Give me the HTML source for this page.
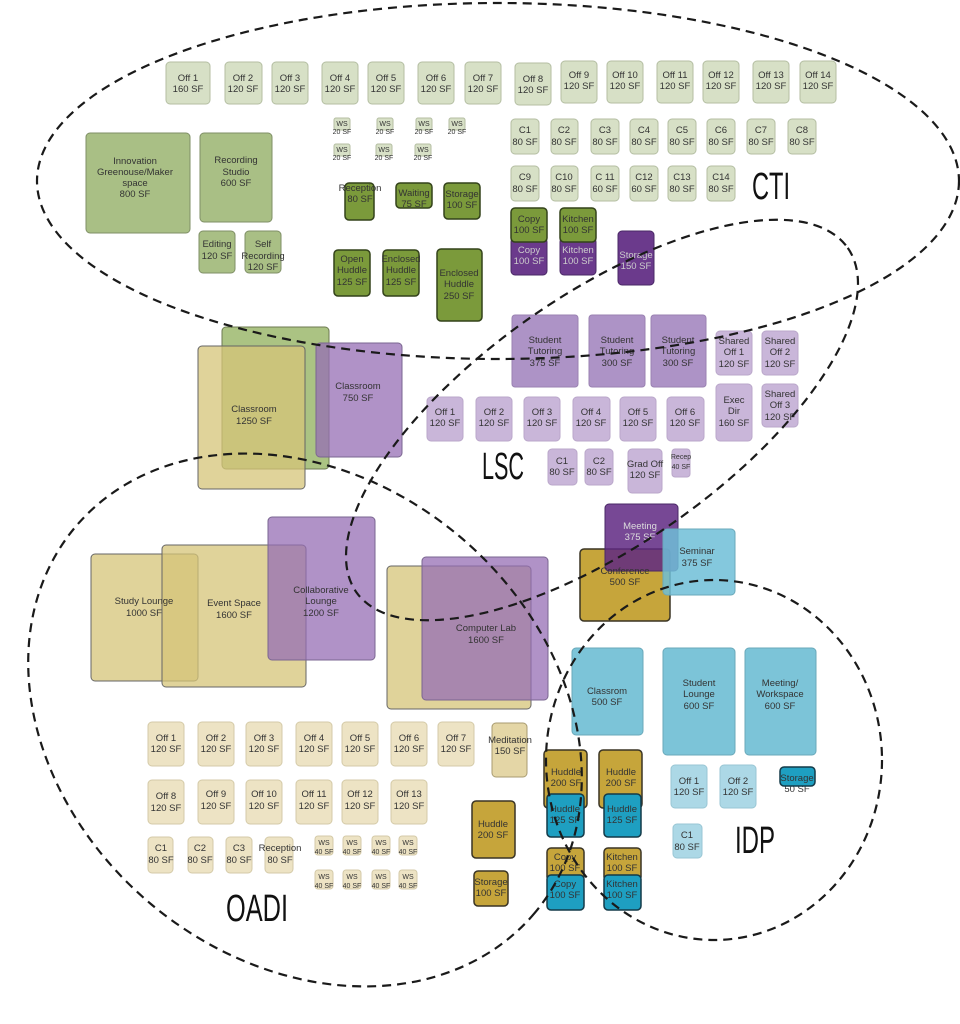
<!DOCTYPE html>
<html><head><meta charset="utf-8"><style>
html,body{margin:0;padding:0;background:#fff;width:960px;height:1024px;overflow:hidden;}
svg{display:block;font-family:"Liberation Sans",sans-serif;}
text{font-size:9.5px;fill:#333;text-anchor:middle;}
.big{font-size:38px;fill:#111;text-anchor:start;}
.g1{fill:#d7e0c6;stroke:#b4bea2;}
.g2{fill:#a9bf85;stroke:#7f8f66;}
.g3{fill:#7b9a3b;stroke:#33421a;stroke-width:1.5;}
.p1{fill:#c9b6d9;stroke:#baa7ca;}
.p2{fill:#ad93c6;stroke:#9a82b2;}
.p3{fill:#6b3a8c;stroke:#4a2866;}
.t1{fill:#ede3c4;stroke:#d4caa8;}
.go{fill:#c6a53b;stroke:#3a3424;stroke-width:1.5;}
.b1{fill:#acd8e6;stroke:#99c6d4;}
.b2{fill:#7cc4d8;stroke:#6aa9ba;}
.b3{fill:#1e9fc1;stroke:#143a48;stroke-width:1.5;}
.tg{fill:rgba(150,180,100,0.8);stroke:#6c7a50;}
.tt{fill:rgba(214,196,120,0.75);stroke:#666;}
.tp{fill:rgba(150,110,180,0.75);stroke:#7a6690;}
.tb{fill:rgba(110,190,215,0.85);stroke:#6aa9ba;}
.tm{fill:rgba(95,40,130,0.85);stroke:#4a2866;}
rect{stroke-width:1;}
.d{fill:none;stroke:#1a1a1a;stroke-width:2.2;stroke-dasharray:9 6;}
</style></head><body>
<svg width="960" height="1024" viewBox="0 0 960 1024" xmlns="http://www.w3.org/2000/svg" style="overflow:hidden">

<g>
<rect class="g1" x="166" y="62" width="44" height="42" rx="4"/><text x="188" y="81">Off 1</text><text x="188" y="92">160 SF</text>
<rect class="g1" x="225" y="62" width="37" height="42" rx="4"/><text x="243" y="81">Off 2</text><text x="243" y="92">120 SF</text>
<rect class="g1" x="272" y="62" width="36" height="42" rx="4"/><text x="290" y="81">Off 3</text><text x="290" y="92">120 SF</text>
<rect class="g1" x="322" y="62" width="36" height="42" rx="4"/><text x="340" y="81">Off 4</text><text x="340" y="92">120 SF</text>
<rect class="g1" x="368" y="62" width="36" height="42" rx="4"/><text x="386" y="81">Off 5</text><text x="386" y="92">120 SF</text>
<rect class="g1" x="418" y="62" width="36" height="42" rx="4"/><text x="436" y="81">Off 6</text><text x="436" y="92">120 SF</text>
<rect class="g1" x="465" y="62" width="36" height="42" rx="4"/><text x="483" y="81">Off 7</text><text x="483" y="92">120 SF</text>
<rect class="g1" x="515" y="63" width="36" height="42" rx="4"/><text x="533" y="82">Off 8</text><text x="533" y="93">120 SF</text>
<rect class="g1" x="561" y="61" width="36" height="42" rx="4"/><text x="579" y="78">Off 9</text><text x="579" y="89">120 SF</text>
<rect class="g1" x="607" y="61" width="36" height="42" rx="4"/><text x="625" y="78">Off 10</text><text x="625" y="89">120 SF</text>
<rect class="g1" x="657" y="61" width="36" height="42" rx="4"/><text x="675" y="78">Off 11</text><text x="675" y="89">120 SF</text>
<rect class="g1" x="703" y="61" width="36" height="42" rx="4"/><text x="721" y="78">Off 12</text><text x="721" y="89">120 SF</text>
<rect class="g1" x="753" y="61" width="36" height="42" rx="4"/><text x="771" y="78">Off 13</text><text x="771" y="89">120 SF</text>
<rect class="g1" x="800" y="61" width="36" height="42" rx="4"/><text x="818" y="78">Off 14</text><text x="818" y="89">120 SF</text>
</g>
<g>
<rect class="g1" x="334" y="118" width="16" height="12" rx="2"/><text x="342" y="126" style="font-size:7px">WS</text><text x="342" y="134" style="font-size:7px">20 SF</text>
<rect class="g1" x="377" y="118" width="16" height="12" rx="2"/><text x="385" y="126" style="font-size:7px">WS</text><text x="385" y="134" style="font-size:7px">20 SF</text>
<rect class="g1" x="416" y="118" width="16" height="12" rx="2"/><text x="424" y="126" style="font-size:7px">WS</text><text x="424" y="134" style="font-size:7px">20 SF</text>
<rect class="g1" x="449" y="118" width="16" height="12" rx="2"/><text x="457" y="126" style="font-size:7px">WS</text><text x="457" y="134" style="font-size:7px">20 SF</text>
<rect class="g1" x="334" y="144" width="16" height="12" rx="2"/><text x="342" y="152" style="font-size:7px">WS</text><text x="342" y="160" style="font-size:7px">20 SF</text>
<rect class="g1" x="376" y="144" width="16" height="12" rx="2"/><text x="384" y="152" style="font-size:7px">WS</text><text x="384" y="160" style="font-size:7px">20 SF</text>
<rect class="g1" x="415" y="144" width="16" height="12" rx="2"/><text x="423" y="152" style="font-size:7px">WS</text><text x="423" y="160" style="font-size:7px">20 SF</text>
</g>
<rect class="g2" x="86" y="133" width="104" height="100" rx="4"/><text x="135" y="164">Innovation</text><text x="135" y="175">Greenouse/Maker</text><text x="135" y="186">space</text><text x="135" y="197">800 SF</text>
<rect class="g2" x="200" y="133" width="72" height="89" rx="4"/><text x="236" y="163">Recording</text><text x="236" y="175">Studio</text><text x="236" y="186">600 SF</text>
<rect class="g2" x="199" y="231" width="36" height="42" rx="4"/><text x="217" y="247">Editing</text><text x="217" y="259">120 SF</text>
<rect class="g2" x="245" y="231" width="36" height="42" rx="4"/><text x="263" y="247">Self</text><text x="263" y="259">Recording</text><text x="263" y="270">120 SF</text>
<rect class="g3" x="345" y="183" width="29" height="37" rx="4"/><text x="360" y="191">Reception</text><text x="360" y="202">80 SF</text>
<rect class="g3" x="396" y="183" width="36" height="25" rx="4"/><text x="414" y="196">Waiting</text><text x="414" y="207">75 SF</text>
<rect class="g3" x="444" y="183" width="36" height="36" rx="4"/><text x="462" y="197">Storage</text><text x="462" y="208">100 SF</text>
<rect class="g3" x="334" y="250" width="36" height="46" rx="4"/><text x="352" y="262">Open</text><text x="352" y="273">Huddle</text><text x="352" y="285">125 SF</text>
<rect class="g3" x="383" y="250" width="36" height="46" rx="4"/><text x="401" y="262">Enclosed</text><text x="401" y="273">Huddle</text><text x="401" y="285">125 SF</text>
<rect class="g3" x="437" y="249" width="45" height="72" rx="4"/><text x="459" y="276">Enclosed</text><text x="459" y="287">Huddle</text><text x="459" y="299">250 SF</text>
<g>
<rect class="g1" x="511" y="119" width="28" height="35" rx="4"/><text x="525" y="133">C1</text><text x="525" y="145">80 SF</text>
<rect class="g1" x="551" y="119" width="27" height="35" rx="4"/><text x="564" y="133">C2</text><text x="564" y="145">80 SF</text>
<rect class="g1" x="591" y="119" width="28" height="35" rx="4"/><text x="605" y="133">C3</text><text x="605" y="145">80 SF</text>
<rect class="g1" x="630" y="119" width="28" height="35" rx="4"/><text x="644" y="133">C4</text><text x="644" y="145">80 SF</text>
<rect class="g1" x="668" y="119" width="28" height="35" rx="4"/><text x="682" y="133">C5</text><text x="682" y="145">80 SF</text>
<rect class="g1" x="707" y="119" width="28" height="35" rx="4"/><text x="721" y="133">C6</text><text x="721" y="145">80 SF</text>
<rect class="g1" x="747" y="119" width="28" height="35" rx="4"/><text x="761" y="133">C7</text><text x="761" y="145">80 SF</text>
<rect class="g1" x="788" y="119" width="28" height="35" rx="4"/><text x="802" y="133">C8</text><text x="802" y="145">80 SF</text>
<rect class="g1" x="511" y="166" width="28" height="35" rx="4"/><text x="525" y="180">C9</text><text x="525" y="192">80 SF</text>
<rect class="g1" x="551" y="166" width="27" height="35" rx="4"/><text x="564" y="180">C10</text><text x="564" y="192">80 SF</text>
<rect class="g1" x="591" y="166" width="28" height="35" rx="4"/><text x="605" y="180">C 11</text><text x="605" y="192">60 SF</text>
<rect class="g1" x="630" y="166" width="28" height="35" rx="4"/><text x="644" y="180">C12</text><text x="644" y="192">60 SF</text>
<rect class="g1" x="668" y="166" width="28" height="35" rx="4"/><text x="682" y="180">C13</text><text x="682" y="192">80 SF</text>
<rect class="g1" x="707" y="166" width="28" height="35" rx="4"/><text x="721" y="180">C14</text><text x="721" y="192">80 SF</text>
</g>
<rect class="p3" x="511" y="238" width="36" height="37" rx="4"/><text x="529" y="253" style="fill:#ccc">Copy</text><text x="529" y="264" style="fill:#ccc">100 SF</text>
<rect class="p3" x="560" y="238" width="36" height="37" rx="4"/><text x="578" y="253" style="fill:#ccc">Kitchen</text><text x="578" y="264" style="fill:#ccc">100 SF</text>
<rect class="g3" x="511" y="208" width="36" height="34" rx="4"/><text x="529" y="222">Copy</text><text x="529" y="233">100 SF</text>
<rect class="g3" x="560" y="208" width="36" height="34" rx="4"/><text x="578" y="222">Kitchen</text><text x="578" y="233">100 SF</text>
<rect class="p3" x="618" y="231" width="36" height="54" rx="4"/><text x="636" y="258" style="fill:#ccc">Storage</text><text x="636" y="269" style="fill:#ccc">150 SF</text>
<text class="big" x="752" y="199" textLength="38" lengthAdjust="spacingAndGlyphs">CTI</text>

<rect class="tg" x="222" y="327" width="107" height="142" rx="4"/>
<rect class="tt" x="198" y="346" width="107" height="143" rx="4"/>
<rect class="tp" x="316" y="343" width="86" height="114" rx="4"/>
<text x="254" y="412">Classroom</text><text x="254" y="424">1250 SF</text>
<text x="358" y="389">Classroom</text><text x="358" y="401">750 SF</text>

<rect class="p2" x="512" y="315" width="66" height="72" rx="3"/><text x="545" y="343">Student</text><text x="545" y="354">Tutoring</text><text x="545" y="366">375 SF</text>
<rect class="p2" x="589" y="315" width="56" height="72" rx="3"/><text x="617" y="343">Student</text><text x="617" y="354">Tutoring</text><text x="617" y="366">300 SF</text>
<rect class="p2" x="651" y="315" width="55" height="72" rx="3"/><text x="678" y="343">Student</text><text x="678" y="354">Tutoring</text><text x="678" y="366">300 SF</text>
<rect class="p1" x="716" y="331" width="36" height="44" rx="4"/><text x="734" y="344">Shared</text><text x="734" y="355">Off 1</text><text x="734" y="367">120 SF</text>
<rect class="p1" x="762" y="331" width="36" height="44" rx="4"/><text x="780" y="344">Shared</text><text x="780" y="355">Off 2</text><text x="780" y="367">120 SF</text>
<rect class="p1" x="716" y="384" width="36" height="57" rx="4"/><text x="734" y="403">Exec</text><text x="734" y="414">Dir</text><text x="734" y="426">160 SF</text>
<rect class="p1" x="762" y="384" width="36" height="43" rx="4"/><text x="780" y="397">Shared</text><text x="780" y="408">Off 3</text><text x="780" y="420">120 SF</text>
<rect class="p1" x="427" y="397" width="36" height="44" rx="4"/><text x="445" y="415">Off 1</text><text x="445" y="426">120 SF</text>
<rect class="p1" x="476" y="397" width="36" height="44" rx="4"/><text x="494" y="415">Off 2</text><text x="494" y="426">120 SF</text>
<rect class="p1" x="524" y="397" width="36" height="44" rx="4"/><text x="542" y="415">Off 3</text><text x="542" y="426">120 SF</text>
<rect class="p1" x="573" y="397" width="37" height="44" rx="4"/><text x="591" y="415">Off 4</text><text x="591" y="426">120 SF</text>
<rect class="p1" x="620" y="397" width="36" height="44" rx="4"/><text x="638" y="415">Off 5</text><text x="638" y="426">120 SF</text>
<rect class="p1" x="667" y="397" width="37" height="44" rx="4"/><text x="685" y="415">Off 6</text><text x="685" y="426">120 SF</text>
<rect class="p1" x="548" y="449" width="29" height="36" rx="4"/><text x="562" y="464">C1</text><text x="562" y="475">80 SF</text>
<rect class="p1" x="585" y="449" width="28" height="36" rx="4"/><text x="599" y="464">C2</text><text x="599" y="475">80 SF</text>
<rect class="p1" x="628" y="449" width="34" height="44" rx="4"/><text x="645" y="467">Grad Off</text><text x="645" y="478">120 SF</text>
<rect class="p1" x="672" y="449" width="18" height="28" rx="3"/><text x="681" y="459" style="font-size:7px">Recep</text><text x="681" y="469" style="font-size:7px">40 SF</text>
<text class="big" x="482" y="479" textLength="42" lengthAdjust="spacingAndGlyphs">LSC</text>

<rect class="tt" x="91" y="554" width="107" height="127" rx="4"/>
<rect class="tt" x="162" y="545" width="144" height="142" rx="4"/>
<rect class="tp" x="268" y="517" width="107" height="143" rx="4"/>
<text x="144" y="604">Study Lounge</text><text x="144" y="616">1000 SF</text>
<text x="234" y="606">Event Space</text><text x="234" y="618">1600 SF</text>
<text x="321" y="593">Collaborative</text><text x="321" y="604">Lounge</text><text x="321" y="616">1200 SF</text>
<rect class="tt" x="387" y="566" width="144" height="143" rx="4"/>
<rect class="tp" x="422" y="557" width="126" height="143" rx="4"/>
<text x="486" y="631">Computer Lab</text><text x="486" y="643">1600 SF</text>

<rect class="go" x="580" y="549" width="90" height="72" rx="4"/>
<rect class="tm" x="605" y="504" width="73" height="67" rx="4"/>
<rect class="tb" x="663" y="529" width="72" height="66" rx="4"/>
<text x="640" y="529" style="fill:#ddd">Meeting</text><text x="640" y="540" style="fill:#ddd">375 SF</text>
<text x="697" y="554">Seminar</text><text x="697" y="566">375 SF</text>
<text x="625" y="574">Conference</text><text x="625" y="585">500 SF</text>

<rect class="b2" x="572" y="648" width="71" height="87" rx="4"/><text x="607" y="694">Classrom</text><text x="607" y="705">500 SF</text>
<rect class="b2" x="663" y="648" width="72" height="107" rx="4"/><text x="699" y="686">Student</text><text x="699" y="697">Lounge</text><text x="699" y="709">600 SF</text>
<rect class="b2" x="745" y="648" width="71" height="107" rx="4"/><text x="780" y="686">Meeting/</text><text x="780" y="697">Workspace</text><text x="780" y="709">600 SF</text>
<rect class="b1" x="671" y="765" width="36" height="43" rx="4"/><text x="689" y="784">Off 1</text><text x="689" y="795">120 SF</text>
<rect class="b1" x="720" y="765" width="36" height="43" rx="4"/><text x="738" y="784">Off 2</text><text x="738" y="795">120 SF</text>
<text x="797" y="792">50 SF</text>
<rect class="b3" x="780" y="767" width="35" height="19" rx="4"/><text x="797" y="781">Storage</text>
<rect class="b1" x="673" y="824" width="29" height="34" rx="4"/><text x="687" y="838">C1</text><text x="687" y="850">80 SF</text>
<text class="big" x="735" y="853" textLength="40" lengthAdjust="spacingAndGlyphs">IDP</text>

<g>
<rect class="t1" x="148" y="722" width="36" height="44" rx="4"/><text x="166" y="741">Off 1</text><text x="166" y="752">120 SF</text>
<rect class="t1" x="198" y="722" width="36" height="44" rx="4"/><text x="216" y="741">Off 2</text><text x="216" y="752">120 SF</text>
<rect class="t1" x="246" y="722" width="36" height="44" rx="4"/><text x="264" y="741">Off 3</text><text x="264" y="752">120 SF</text>
<rect class="t1" x="296" y="722" width="36" height="44" rx="4"/><text x="314" y="741">Off 4</text><text x="314" y="752">120 SF</text>
<rect class="t1" x="342" y="722" width="36" height="44" rx="4"/><text x="360" y="741">Off 5</text><text x="360" y="752">120 SF</text>
<rect class="t1" x="391" y="722" width="36" height="44" rx="4"/><text x="409" y="741">Off 6</text><text x="409" y="752">120 SF</text>
<rect class="t1" x="438" y="722" width="36" height="44" rx="4"/><text x="456" y="741">Off 7</text><text x="456" y="752">120 SF</text>
<rect class="t1" x="492" y="723" width="35" height="54" rx="4" style="fill:#e4d6a6;stroke:#a89b70"/><text x="510" y="743">Meditation</text><text x="510" y="754">150 SF</text>
<rect class="t1" x="148" y="780" width="36" height="44" rx="4"/><text x="166" y="799">Off 8</text><text x="166" y="811">120 SF</text>
<rect class="t1" x="198" y="780" width="36" height="44" rx="4"/><text x="216" y="797">Off 9</text><text x="216" y="809">120 SF</text>
<rect class="t1" x="246" y="780" width="36" height="44" rx="4"/><text x="264" y="797">Off 10</text><text x="264" y="809">120 SF</text>
<rect class="t1" x="296" y="780" width="36" height="44" rx="4"/><text x="314" y="797">Off 11</text><text x="314" y="809">120 SF</text>
<rect class="t1" x="342" y="780" width="36" height="44" rx="4"/><text x="360" y="797">Off 12</text><text x="360" y="809">120 SF</text>
<rect class="t1" x="391" y="780" width="36" height="44" rx="4"/><text x="409" y="797">Off 13</text><text x="409" y="809">120 SF</text>
<rect class="t1" x="148" y="837" width="25" height="36" rx="4"/><text x="161" y="851">C1</text><text x="161" y="863">80 SF</text>
<rect class="t1" x="188" y="837" width="25" height="36" rx="4"/><text x="200" y="851">C2</text><text x="200" y="863">80 SF</text>
<rect class="t1" x="226" y="837" width="26" height="36" rx="4"/><text x="239" y="851">C3</text><text x="239" y="863">80 SF</text>
<rect class="t1" x="265" y="837" width="28" height="36" rx="4"/><text x="280" y="851">Reception</text><text x="280" y="863">80 SF</text>
</g>
<g>
<rect class="t1" x="315" y="836" width="18" height="19" rx="3"/><text x="324" y="845" style="font-size:7px">WS</text><text x="324" y="854" style="font-size:7px">40 SF</text>
<rect class="t1" x="343" y="836" width="18" height="19" rx="3"/><text x="352" y="845" style="font-size:7px">WS</text><text x="352" y="854" style="font-size:7px">40 SF</text>
<rect class="t1" x="372" y="836" width="18" height="19" rx="3"/><text x="381" y="845" style="font-size:7px">WS</text><text x="381" y="854" style="font-size:7px">40 SF</text>
<rect class="t1" x="399" y="836" width="18" height="19" rx="3"/><text x="408" y="845" style="font-size:7px">WS</text><text x="408" y="854" style="font-size:7px">40 SF</text>
<rect class="t1" x="315" y="870" width="18" height="19" rx="3"/><text x="324" y="879" style="font-size:7px">WS</text><text x="324" y="888" style="font-size:7px">40 SF</text>
<rect class="t1" x="343" y="870" width="18" height="19" rx="3"/><text x="352" y="879" style="font-size:7px">WS</text><text x="352" y="888" style="font-size:7px">40 SF</text>
<rect class="t1" x="372" y="870" width="18" height="19" rx="3"/><text x="381" y="879" style="font-size:7px">WS</text><text x="381" y="888" style="font-size:7px">40 SF</text>
<rect class="t1" x="399" y="870" width="18" height="19" rx="3"/><text x="408" y="879" style="font-size:7px">WS</text><text x="408" y="888" style="font-size:7px">40 SF</text>
</g>
<rect class="go" x="472" y="801" width="43" height="57" rx="4"/><text x="493" y="827">Huddle</text><text x="493" y="838">200 SF</text>
<rect class="go" x="474" y="871" width="34" height="35" rx="4"/><text x="491" y="885">Storage</text><text x="491" y="896">100 SF</text>
<rect class="go" x="544" y="750" width="43" height="58" rx="4"/><text x="566" y="775">Huddle</text><text x="566" y="786">200 SF</text>
<rect class="go" x="599" y="750" width="43" height="58" rx="4"/><text x="621" y="775">Huddle</text><text x="621" y="786">200 SF</text>
<rect class="b3" x="547" y="794" width="37" height="43" rx="4"/><text x="565" y="812">Huddle</text><text x="565" y="823">125 SF</text>
<rect class="b3" x="604" y="794" width="37" height="43" rx="4"/><text x="622" y="812">Huddle</text><text x="622" y="823">125 SF</text>
<rect class="go" x="547" y="848" width="37" height="33" rx="4"/><text x="565" y="860">Copy</text><text x="565" y="871">100 SF</text>
<rect class="go" x="604" y="848" width="37" height="33" rx="4"/><text x="622" y="860">Kitchen</text><text x="622" y="871">100 SF</text>
<rect class="b3" x="547" y="875" width="37" height="35" rx="4"/><text x="565" y="887">Copy</text><text x="565" y="898">100 SF</text>
<rect class="b3" x="604" y="875" width="37" height="35" rx="4"/><text x="622" y="887">Kitchen</text><text x="622" y="898">100 SF</text>
<text class="big" x="226" y="921" textLength="62" lengthAdjust="spacingAndGlyphs">OADI</text>

<ellipse class="d" cx="498" cy="181" rx="461" ry="178"/>
<ellipse class="d" cx="602" cy="420" rx="300" ry="125" transform="rotate(-35 602 420)"/>
<ellipse class="d" cx="305" cy="720" rx="300" ry="240" transform="rotate(40 305 720)"/>
<ellipse class="d" cx="714" cy="760" rx="168" ry="180"/>
</svg>
</body></html>
